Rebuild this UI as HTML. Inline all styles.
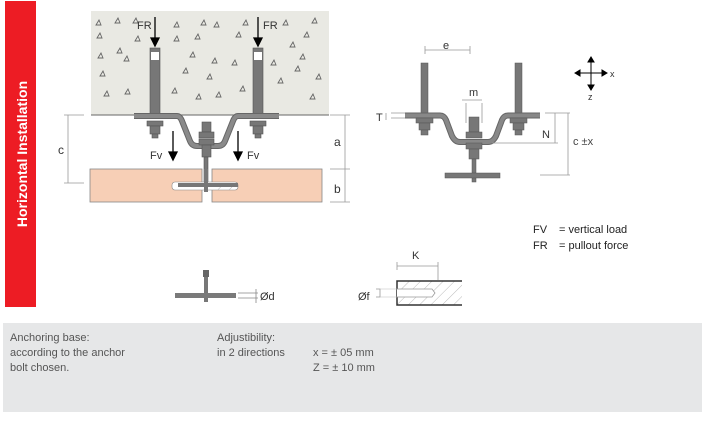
<!DOCTYPE html>
<html><head><meta charset="utf-8"><style>
body{margin:0;width:710px;height:421px;background:#fff;overflow:hidden;font-family:"Liberation Sans",sans-serif}
svg{position:absolute;left:0;top:0}
</style></head><body>
<svg width="710" height="421" viewBox="0 0 710 421" font-family="Liberation Sans, sans-serif">
<defs>
<pattern id="hatch" width="8" height="8" patternUnits="userSpaceOnUse" patternTransform="rotate(45)">
<line x1="0" y1="0" x2="0" y2="8" stroke="#bbb" stroke-width="1"/></pattern>
</defs>
<rect x="5" y="1" width="31" height="306" fill="#ed1c24"/>
<text transform="translate(27,154) rotate(-90)" text-anchor="middle" fill="#fff" font-size="14" font-weight="bold">Horizontal Installation</text>

<rect x="91" y="11" width="238" height="104" fill="#e9e9e3"/>
<g fill="none" stroke="#666" stroke-width="0.9">
<path d="M96 25l3-5 2 5z M115 23l3-5 2 5z M133 23l3-5 2 5z M97 38l3-5 2 5z M135 41l3-5 2 5z M98 58l3-5 2 5z M117 53l3-5 2 5z M100 76l3-5 2 5z M124 61l3-5 2 5z M104 96l3-5 2 5z M125 94l3-5 2 5z M174 27l3-5 2 5z M201 25l3-5 2 5z M214 27l3-5 2 5z M174 41l3-5 2 5z M195 39l3-5 2 5z M236 37l3-5 2 5z M190 57l3-5 2 5z M212 63l3-5 2 5z M183 73l3-5 2 5z M207 79l3-5 2 5z M232 65l3-5 2 5z M172 93l3-5 2 5z M196 99l3-5 2 5z M216 97l3-5 2 5z M283 25l3-5 2 5z M312 23l3-5 2 5z M304 37l3-5 2 5z M290 47l3-5 2 5z M271 65l3-5 2 5z M295 71l3-5 2 5z M316 79l3-5 2 5z M278 83l3-5 2 5z M310 99l3-5 2 5z M300 59l3-5 2 5z M243 25l3-5 2 5z M240 91l3-5 2 5z"/>
</g>
<line x1="91" y1="115" x2="329" y2="115" stroke="#666" stroke-width="1"/>
<g>
<rect x="150" y="48" width="10" height="67" fill="#777" stroke="#555" stroke-width="0.6"/>
<rect x="151" y="52" width="8" height="8" fill="#fff"/>
<rect x="253" y="48" width="10" height="67" fill="#777" stroke="#555" stroke-width="0.6"/>
<rect x="254" y="52" width="8" height="8" fill="#fff"/>
</g>
<g stroke="#000" stroke-width="1.3" fill="#000">
<line x1="155" y1="17" x2="155" y2="43"/><path d="M151 38h8l-4 8z"/>
<line x1="258" y1="17" x2="258" y2="43"/><path d="M254 38h8l-4 8z"/>
</g>
<text x="137" y="29" font-size="11" fill="#333">FR</text>
<text x="263" y="29" font-size="11" fill="#333">FR</text>
<path d="M134 116H177Q180 116 182 121L190 141Q192 146 197 146H218Q223 146 225 141L233 121Q235 116 238 116H279" fill="none" stroke="#666" stroke-width="6"/>
<path d="M134 116H177Q180 116 182 121L190 141Q192 146 197 146H218Q223 146 225 141L233 121Q235 116 238 116H279" fill="none" stroke="#8a8a8a" stroke-width="4"/>
<g fill="#777" stroke="#555" stroke-width="0.6">
<rect x="147" y="121" width="16" height="5"/><rect x="150" y="126" width="10" height="8"/><rect x="152" y="134" width="6" height="4"/>
<rect x="250" y="121" width="16" height="5"/><rect x="253" y="126" width="10" height="8"/><rect x="255" y="134" width="6" height="4"/>
<rect x="202" y="122" width="9" height="10"/><rect x="199" y="132" width="15" height="6"/><rect x="199" y="139" width="15" height="6"/><rect x="202" y="145" width="9" height="12"/>
<rect x="204" y="157" width="4" height="25"/>
</g>
<g stroke="#000" stroke-width="1.3" fill="#000">
<line x1="173" y1="131" x2="173" y2="157"/><path d="M169 152h8l-4 8z"/>
<line x1="238" y1="131" x2="238" y2="157"/><path d="M234 152h8l-4 8z"/>
</g>
<text x="150" y="159" font-size="11" fill="#333">Fv</text>
<text x="247" y="159" font-size="11" fill="#333">Fv</text>
<rect x="90" y="169" width="112" height="33" fill="#f7cfb6" stroke="#888" stroke-width="0.8"/>
<rect x="212" y="169" width="110" height="33" fill="#f7cfb6" stroke="#888" stroke-width="0.8"/>
<rect x="172" y="182" width="66" height="8" rx="3" fill="#fff" stroke="#888" stroke-width="0.6"/>
<rect x="178" y="183" width="60" height="4" fill="#777"/>
<rect x="214" y="187" width="22" height="3" fill="url(#hatch)"/>
<rect x="204" y="169" width="4" height="23" fill="#777"/>
<g stroke="#999" stroke-width="0.8" fill="none">
<path d="M68 115V183M64 115h20M64 183h20"/>
<path d="M345 115V202M330 115h20M330 169h20M330 202h20"/>
</g>
<text x="58" y="154" font-size="12" fill="#333">c</text>
<text x="334" y="146" font-size="12" fill="#333">a</text>
<text x="334" y="193" font-size="12" fill="#333">b</text>

<rect x="203" y="270" width="6" height="7" fill="#666"/>
<rect x="204" y="277" width="4" height="25" fill="#777"/>
<rect x="175" y="293" width="61" height="5" fill="#7a7a7a"/>
<path d="M238 293h20M238 298h20M256 289v14" stroke="#888" stroke-width="0.8" fill="none"/>
<text x="260" y="300" font-size="11" fill="#333">Ød</text>

<path d="M425 46v8M425 50h45M470 46v8" stroke="#999" stroke-width="0.8" fill="none"/>
<text x="443" y="49" font-size="11" fill="#333">e</text>
<rect x="421" y="63" width="7" height="50" fill="#777" stroke="#555" stroke-width="0.5"/>
<rect x="515" y="63" width="7" height="50" fill="#777" stroke="#555" stroke-width="0.5"/>
<path d="M405 115.5H440Q444 115.5 446 120L452 136Q455 142 460 142H488Q493 142 496 136L502 120Q504 115.5 508 115.5H540" fill="none" stroke="#666" stroke-width="6"/>
<path d="M405 115.5H440Q444 115.5 446 120L452 136Q455 142 460 142H488Q493 142 496 136L502 120Q504 115.5 508 115.5H540" fill="none" stroke="#888" stroke-width="4"/>
<g fill="#777" stroke="#555" stroke-width="0.5">
<rect x="416" y="118" width="17" height="5"/><rect x="419" y="123" width="11" height="7"/><rect x="421" y="130" width="7" height="5"/>
<rect x="510" y="118" width="17" height="5"/><rect x="513" y="123" width="11" height="7"/><rect x="515" y="130" width="7" height="5"/>
<rect x="469" y="117" width="10" height="15"/><rect x="466" y="132" width="16" height="6"/><rect x="466" y="143" width="16" height="6"/><rect x="469" y="149" width="10" height="10"/>
<rect x="472" y="159" width="4" height="23"/>
<rect x="445" y="173" width="55" height="5"/>
</g>
<path d="M466 103v20M482 103v20M462 100h20" stroke="#999" stroke-width="0.8" fill="none"/>
<text x="469" y="96" font-size="11" fill="#333">m</text>
<path d="M386 113v7M391 113h14M391 118h14" stroke="#999" stroke-width="0.8" fill="none"/>
<text x="376" y="121" font-size="11" fill="#333">T</text>
<path d="M545 113h25M555 113v30M492 143h66M540 175h30M568 113v62" stroke="#999" stroke-width="0.8" fill="none"/>
<text x="542" y="138" font-size="11" fill="#333">N</text>
<text x="573" y="145" font-size="11" fill="#444">c ±x</text>
<g stroke="#000" stroke-width="1" fill="#000">
<line x1="577" y1="73" x2="605" y2="73"/><line x1="591" y1="59" x2="591" y2="88"/>
<path d="M575 73l5-3v6z M607 73l-5-3v6z M591 57l-3 5h6z M591 90l-3-5h6z"/>
</g>
<text x="610" y="77" font-size="9" fill="#333">x</text>
<text x="588" y="100" font-size="9" fill="#333">z</text>

<text x="533" y="233" font-size="11" fill="#222">FV</text><text x="559" y="233" font-size="11" fill="#222">=  vertical load</text>
<text x="533" y="249" font-size="11" fill="#222">FR</text><text x="559" y="249" font-size="11" fill="#222">=  pullout force</text>

<path d="M397 262v8M397 266h41M438 262v18" stroke="#999" stroke-width="0.8" fill="none"/>
<text x="412" y="259" font-size="11" fill="#333">K</text>
<rect x="397" y="281" width="65" height="24" fill="url(#hatch)"/>
<path d="M462 281H397V305H462" fill="none" stroke="#333" stroke-width="1.5"/>
<path d="M397 289H432L435 293L432 297H397" fill="#fff" stroke="#999" stroke-width="0.8"/>
<path d="M376 289h4v8h-4" stroke="#999" stroke-width="0.8" fill="none"/>
<path d="M380 289h17M380 297h17" stroke="#bbb" stroke-width="0.6"/>
<text x="358" y="300" font-size="11" fill="#333">Øf</text>

<rect x="3" y="323" width="699" height="89" fill="#e6e7e8"/>
<g font-size="11" fill="#555">
<text x="10" y="341">Anchoring base:</text>
<text x="10" y="356">according to the anchor</text>
<text x="10" y="371">bolt chosen.</text>
<text x="217" y="341">Adjustibility:</text>
<text x="217" y="356">in  2  directions</text>
<text x="313" y="356">x = ± 05 mm</text>
<text x="313" y="371">Z = ± 10 mm</text>
</g>
</svg>
</body></html>
